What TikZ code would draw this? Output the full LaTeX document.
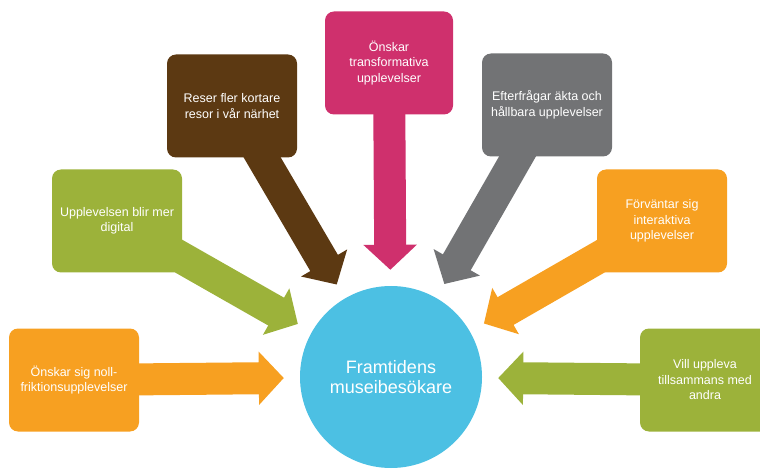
\documentclass[tikz,border=0pt]{standalone}
\usepackage{fontspec}
\setmainfont{Liberation Sans}
\usetikzlibrary{arrows.meta,positioning,backgrounds}

\definecolor{trendorange}{HTML}{F7A021}
\definecolor{trendgreen}{HTML}{9CB23A}
\definecolor{trendbrown}{HTML}{5C3912}
\definecolor{trendpink}{HTML}{CF306D}
\definecolor{trendgray}{HTML}{727375}
\definecolor{trendblue}{HTML}{4CC0E3}

\begin{document}
\begin{tikzpicture}[
    x=1pt, y=-1pt,
    box/.style={rectangle, rounded corners=9pt, minimum width=130pt, minimum height=103pt, align=center, text=white, font=\fontsize{12.5}{15.5}\selectfont},
    fat/.style={line width=32pt, -{Triangle[length=25pt, width=52pt]}, draw=#1, shorten >=16pt}
]
    \useasboundingbox (0,0) rectangle (760,470);

    \node[circle, fill=trendblue, minimum size=182pt, align=center, text=white, font=\fontsize{18}{20.5}\selectfont] (hub) at (391,377) {Framtidens\\museibesökare};

    \node[box, fill=trendorange] (friktion) at (74,380) {Önskar sig noll-\\friktionsupplevelser};
    \node[box, fill=trendgreen] (digital) at (117,221) {Upplevelsen blir mer\\digital};
    \node[box, fill=trendbrown] (resor) at (232,106) {Reser fler kortare\\resor i vår närhet};
    \node[box, fill=trendpink, minimum width=128pt] (transform) at (389,63) {Önskar\\transformativa\\upplevelser};
    \node[box, fill=trendgray] (hallbar) at (547,105) {Efterfrågar äkta och\\hållbara upplevelser};
    \node[box, fill=trendorange] (interaktiv) at (662,221) {Förväntar sig\\interaktiva\\upplevelser};
    \node[box, fill=trendgreen] (tillsammans) at (705,380) {Vill uppleva\\tillsammans med\\andra};

    \begin{scope}[on background layer]
        \draw[fat=trendorange] (friktion.center) -- (hub);
        \draw[fat=trendgreen] (digital.center) -- (hub);
        \draw[fat=trendbrown] (resor.center) -- (hub);
        \draw[fat=trendpink] (transform.center) -- (hub);
        \draw[fat=trendgray] (hallbar.center) -- (hub);
        \draw[fat=trendorange] (interaktiv.center) -- (hub);
        \draw[fat=trendgreen] (tillsammans.center) -- (hub);
    \end{scope}
\end{tikzpicture}
\end{document}
